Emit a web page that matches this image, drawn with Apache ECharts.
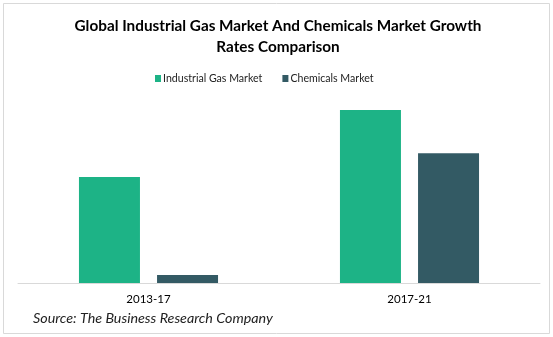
<!DOCTYPE html>
<html><head><meta charset="utf-8">
<script src="https://cdn.jsdelivr.net/npm/echarts@6/dist/echarts.min.js"></script>
<style>html,body{margin:0;padding:0;background:#fff}#c{width:553px;height:337px}</style>
</head><body><div id="c"></div>
<script>
var categories = ['2013-17', '2017-21'];
var seriesNames = ['Industrial Gas Market', 'Chemicals Market'];
var industrialGas = [4.9, 8.0];
var chemicals = [0.37, 6.0];
var titleText = 'Global Industrial Gas Market And Chemicals Market Growth\nRates Comparison';
var sourceText = 'Source: The Business Research Company';

var chart = echarts.init(document.getElementById('c'), null, {renderer: 'canvas'});
chart.setOption({
  animation: false,
  backgroundColor: '#fff',
  title: {
    text: titleText,
    left: 273, top: 11, textAlign: 'center',
    textStyle: {fontFamily: 'Lato', fontWeight: 'bold', fontSize: 15.3, color: '#000', lineHeight: 21}
  },
  legend: {
    top: 68, left: 150,
    itemWidth: 6, itemHeight: 7, itemGap: 20,
    icon: 'rect',
    textStyle: {fontFamily: 'Lato', fontSize: 10.6, color: '#222', padding: [0,0,0,-3]},
    data: seriesNames
  },
  grid: {left: 18, right: 13, top: 88.4, bottom: 54},
  xAxis: {
    type: 'category', data: categories,
    axisLine: {lineStyle: {color: '#d9d9d9'}},
    axisTick: {show: false},
    axisLabel: {fontFamily: 'Lato', fontSize: 11.5, color: '#000', margin: 10}
  },
  yAxis: {
    type: 'value', min: 0, max: 9,
    show: false, splitLine: {show: false}
  },
  series: [
    {name: seriesNames[0], type: 'bar', data: industrialGas, barWidth: 61, barGap: '28%', itemStyle: {color: '#1DB386'}},
    {name: seriesNames[1], type: 'bar', data: chemicals, barWidth: 61, itemStyle: {color: '#335A64'}}
  ],
  graphic: [
    {type: 'rect', shape: {x: 3.5, y: 3.5, width: 546, height: 330}, style: {fill: 'none', stroke: '#d9d9d9', lineWidth: 1}, silent: true},
    {type: 'text', left: 33, top: 311, style: {text: sourceText, font: 'italic 14.3px Lato', fill: '#222'}}
  ]
});
</script></body></html>
